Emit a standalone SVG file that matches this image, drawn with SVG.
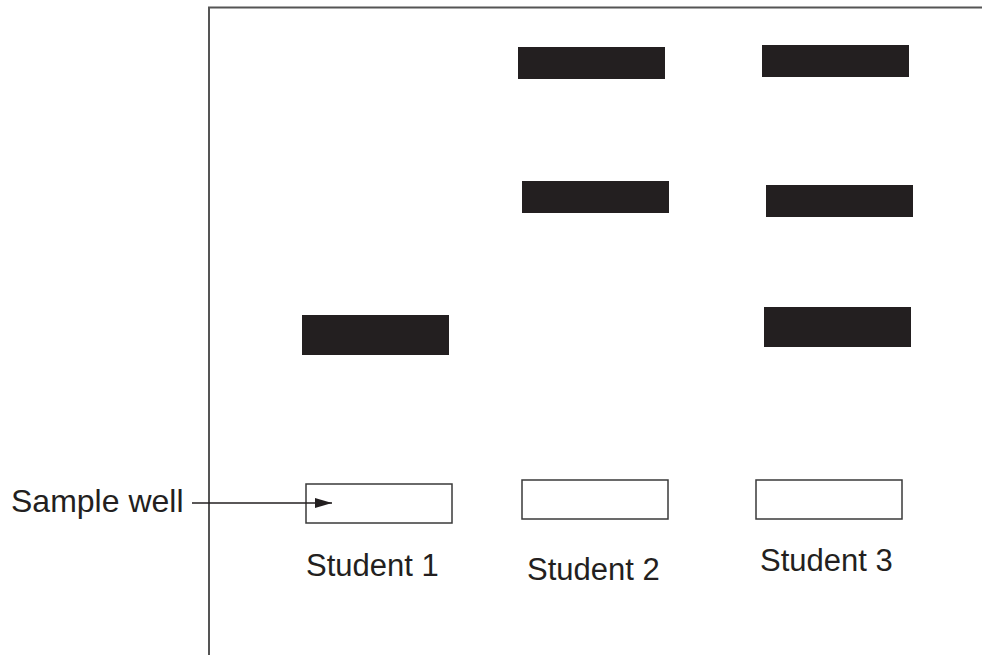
<svg xmlns="http://www.w3.org/2000/svg" width="982" height="655" viewBox="0 0 982 655">
<style>
.band{fill:#231f20}
.well{fill:#fff;stroke:#3a3a3a;stroke-width:1.5}
.frame{fill:none;stroke:#555;stroke-width:2}
.lbl{font-family:"Liberation Sans",Arial,sans-serif;font-size:31px;fill:#231f20}
</style>
<defs>
<marker id="arr" viewBox="0 0 10 10" refX="10" refY="5" markerWidth="17" markerHeight="10" markerUnits="userSpaceOnUse" orient="auto" preserveAspectRatio="none">
<path d="M0,0 L10,5 L0,10 z" fill="#231f20"/>
</marker>
</defs>
<g id="frame"><path class="frame" d="M209,655 L209,7.5 L982,7.5"/></g>
<g id="student1">
<rect class="band" x="302" y="315" width="147" height="40"/>
<rect class="well" x="306" y="484" width="146" height="39"/>
<text class="lbl" x="306" y="576">Student 1</text>
</g>
<g id="student2">
<rect class="band" x="518" y="47" width="147" height="32"/>
<rect class="band" x="522" y="181" width="147" height="32"/>
<rect class="well" x="522" y="480" width="146" height="39"/>
<text class="lbl" x="527" y="580">Student 2</text>
</g>
<g id="student3">
<rect class="band" x="762" y="45" width="147" height="32"/>
<rect class="band" x="766" y="185" width="147" height="32"/>
<rect class="band" x="764" y="307" width="147" height="40"/>
<rect class="well" x="756" y="480" width="146" height="39"/>
<text class="lbl" x="760" y="571">Student 3</text>
</g>
<g id="sample-well-label">
<text class="lbl" x="11" y="512" style="font-size:32px">Sample well</text>
</g>
<g id="connectors">
<line x1="192" y1="503" x2="332" y2="503" stroke="#231f20" stroke-width="1.5" marker-end="url(#arr)"/>
</g>
</svg>
